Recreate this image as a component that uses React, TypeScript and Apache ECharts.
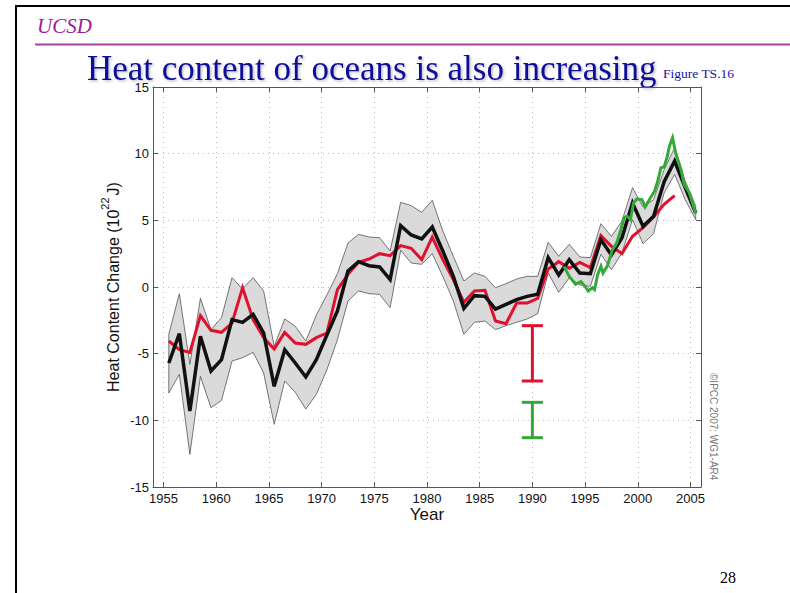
import React, { useEffect, useRef } from "react";
import * as echarts from "echarts";

// ---- data ----
const years = [
  1955.5, 1956.5, 1957.5, 1958.5, 1959.5, 1960.5, 1961.5, 1962.5, 1963.5, 1964.5,
  1965.5, 1966.5, 1967.5, 1968.5, 1969.5, 1970.5, 1971.5, 1972.5, 1973.5, 1974.5,
  1975.5, 1976.5, 1977.5, 1978.5, 1979.5, 1980.5, 1981.5, 1982.5, 1983.5, 1984.5,
  1985.5, 1986.5, 1987.5, 1988.5, 1989.5, 1990.5, 1991.5, 1992.5, 1993.5, 1994.5,
  1995.5, 1996.5, 1997.5, 1998.5, 1999.5, 2000.5, 2001.5, 2002.5, 2003.5, 2004.5,
  2005.5,
];
const blackVals = [
  -5.7, -3.5, -9.3, -3.7, -6.3, -5.45, -2.45, -2.65, -2.05, -3.45,
  -7.45, -4.7, -5.7, -6.75, -5.45, -3.6, -1.8, 1.2, 1.9, 1.6,
  1.5, 0.55, 4.6, 3.9, 3.6, 4.5, 2.7, 0.8, -1.6, -0.65,
  -0.7, -1.65, -1.3, -0.95, -0.7, -0.55, 2.2, 0.9, 2.05, 1.05,
  1.0, 3.55, 2.4, 3.7, 6.3, 4.55, 5.3, 7.9, 9.45, 7.45,
  5.55,
];
const upperVals = [
  -3.55, -0.5, -5.8, -0.85, -3.2, -2.3, 0.7, -0.15, 0.7, -0.3,
  -4.45, -2.4, -2.95, -4.05, -2.1, -0.6, 1.0, 3.3, 3.95, 3.75,
  3.7, 2.7, 6.35, 6.1, 5.6, 6.5, 4.2, 2.3, 0.45, 1.05,
  0.8, -0.05, 0.25, 0.6, 0.8, 0.8, 3.35, 2.3, 3.2, 2.25,
  2.2, 4.75, 3.8, 4.95, 7.45, 6.0, 6.55, 8.8, 10.45, 7.95,
  6.1,
];
const lowerVals = [
  -7.95, -6.55, -12.55, -6.7, -9.05, -8.5, -5.55, -5.3, -4.9, -6.45,
  -10.3, -7.05, -7.9, -9.15, -8.05, -6.2, -3.95, -1.05, -0.3, -0.5,
  -0.55, -1.55, 2.75, 1.8, 1.7, 2.5, 0.8, -1.05, -3.55, -2.65,
  -2.55, -3.2, -2.9, -2.65, -2.4, -2.0, 1.05, -0.4, 0.7, 0.15,
  0.05, 2.45, 1.3, 2.55, 5.05, 3.25, 4.0, 7.05, 8.45, 6.55,
  5.05,
];
const redVals = [
  -4.05, -4.7, -4.9, -2.15, -3.25, -3.4, -2.7, -0.05, -2.45, -3.8,
  -4.65, -3.4, -4.2, -4.3, -3.8, -3.45, -0.2, 0.95, 1.85, 2.1,
  2.5, 2.35, 3.1, 2.9, 2.05, 3.75, 2.05, 0.55, -1.15, -0.3,
  -0.25, -2.55, -2.75, -1.2, -1.2, -0.85, 1.35, 1.9, 1.4, 1.85,
  1.45, 3.85, 3.05, 2.5, 3.8, 4.45, 5.25, 6.2, 6.85,
];
const greenYears = [
  1993.0, 1993.5, 1994.1, 1994.6, 1995.0, 1995.3, 1995.7, 1995.9, 1996.2, 1996.5,
  1996.7, 1997.1, 1997.6, 1998.0, 1998.4, 1998.7, 1999.0, 1999.3, 1999.6, 1999.9,
  2000.4, 2000.7, 2001.1, 2001.6, 2001.9, 2002.2, 2002.5, 2002.8, 2003.0, 2003.3,
  2003.6, 2004.1, 2004.4, 2004.9, 2005.5,
];
const greenVals = [
  1.55, 0.8, 0.2, 0.4, 0.05, -0.3, -0.05, -0.2, 0.95, 1.55,
  1.05, 1.55, 2.8, 3.3, 4.3, 5.2, 5.3, 5.05, 6.3, 6.6,
  6.55, 6.0, 6.55, 7.2, 7.95, 8.95, 9.0, 9.8, 10.55, 11.2,
  10.05, 8.8, 7.7, 7.05, 5.5,
];
const errYears = [1990, 1990];
const errTop = [-2.9, -8.65];
const errBottom = [-7.05, -11.3];
const errColors = ["#e0112e", "#35a83a"];
const xTicks = [1955, 1960, 1965, 1970, 1975, 1980, 1985, 1990, 1995, 2000, 2005];

const SANS = '"Liberation Sans", Arial, sans-serif';
const SERIF = '"Liberation Serif", "Times New Roman", serif';

export default function App() {
  const ref = useRef<HTMLDivElement>(null);
  useEffect(() => {
    if (!ref.current) return;
    const chart = echarts.init(ref.current, null, { renderer: "svg" });

    const pts = (xs: number[], ys: number[]) => ys.map((v, i) => [xs[i], v]);

    const axisLineStyle = { color: "#555", width: 1 };
    const xCommon = {
      type: "value",
      min: 1954,
      max: 2006,
      axisLine: { show: true, onZero: false, lineStyle: axisLineStyle },
    };
    const yCommon = {
      type: "value",
      min: -15,
      max: 15,
      interval: 5,
      axisLine: { show: true, onZero: false, lineStyle: axisLineStyle },
    };

    const option: any = {
      animation: false,
      backgroundColor: "#ffffff",
      grid: { left: 153, top: 87, width: 548, height: 400, containLabel: false },
      xAxis: [
        {
          ...xCommon,
          position: "bottom",
          name: "Year",
          nameLocation: "middle",
          nameMoveOverlap: false,
          nameGap: 19,
          nameTextStyle: { fontFamily: SANS, fontSize: 17, lineHeight: 16, color: "#111", verticalAlign: "top" },
          axisTick: { show: true, inside: true, length: 5, customValues: xTicks, lineStyle: { color: "#555" } },
          axisLabel: {
            show: true,
            margin: 5,
            customValues: xTicks,
            formatter: (v: number) => String(Math.round(v)),
            fontFamily: SANS,
            fontSize: 13,
            color: "#111",
          },
          splitLine: { show: true, lineStyle: { type: [1, 4], color: "#bbbbbb", width: 1 } },
        },
        {
          ...xCommon,
          position: "top",
          axisTick: { show: true, inside: true, length: 5, customValues: xTicks, lineStyle: { color: "#555" } },
          axisLabel: { show: false },
          splitLine: { show: false },
        },
      ],
      yAxis: [
        {
          ...yCommon,
          position: "left",
          name: "{a|Heat Content Change (10}{s|22}{a|J)}",
          nameLocation: "middle",
          nameMoveOverlap: false,
          nameRotate: 90,
          nameGap: 32,
          nameTextStyle: {
            rich: {
              a: { fontFamily: SANS, fontSize: 16, color: "#111", verticalAlign: "bottom", lineHeight: 22 },
              s: { fontFamily: SANS, fontSize: 11, color: "#111", verticalAlign: "top", lineHeight: 22, padding: [0, 2, 0, 0] },
            },
          },
          axisTick: { show: true, inside: true, length: 5, lineStyle: { color: "#555" } },
          axisLabel: { show: true, margin: 4, fontFamily: SANS, fontSize: 13, color: "#111" },
          splitLine: { show: true, lineStyle: { type: [1, 4], color: "#bbbbbb", width: 1 } },
        },
        {
          ...yCommon,
          position: "right",
          axisTick: { show: true, inside: true, length: 5, lineStyle: { color: "#555" } },
          axisLabel: { show: false },
          splitLine: { show: false },
        },
      ],
      series: [
        {
          type: "custom",
          name: "band",
          data: [[years[0], upperVals[0]]],
          encode: { x: 0, y: 1 },
          silent: true,
          renderItem: (params: any, api: any) => {
            const up = years.map((x, i) => api.coord([x, upperVals[i]]));
            const lo = years.map((x, i) => api.coord([x, lowerVals[i]])).reverse();
            return {
              type: "polygon",
              shape: { points: up.concat(lo) },
              style: { fill: "#d9dad9", stroke: "#555", lineWidth: 0.8 },
            };
          },
          z: 1,
        },
        {
          type: "line",
          name: "red",
          data: pts(years, redVals),
          symbol: "none",
          lineStyle: { width: 3, color: "#e0112e", join: "miter" },
          z: 3,
        },
        {
          type: "line",
          name: "black",
          data: pts(years, blackVals),
          symbol: "none",
          lineStyle: { width: 3.5, color: "#111111", join: "miter" },
          z: 4,
        },
        {
          type: "line",
          name: "green",
          data: pts(greenYears, greenVals),
          symbol: "none",
          lineStyle: { width: 3, color: "#35a83a", join: "miter" },
          z: 5,
        },
        {
          type: "custom",
          name: "errorbars",
          data: errYears.map((x, i) => [x, errTop[i], errBottom[i], i]),
          encode: { x: 0, y: [1, 2] },
          renderItem: (params: any, api: any) => {
            const x = api.value(0);
            const top = api.coord([x, api.value(1)]);
            const bot = api.coord([x, api.value(2)]);
            const half = api.size([1, 0])[0];
            const color = errColors[api.value(3)];
            const style = { stroke: color, lineWidth: 3, fill: "none" };
            return {
              type: "group",
              children: [
                { type: "line", shape: { x1: top[0], y1: top[1], x2: bot[0], y2: bot[1] }, style },
                { type: "line", shape: { x1: top[0] - half, y1: top[1], x2: top[0] + half, y2: top[1] }, style },
                { type: "line", shape: { x1: bot[0] - half, y1: bot[1], x2: bot[0] + half, y2: bot[1] }, style },
              ],
            };
          },
          z: 6,
        },
      ],
      graphic: [
        { type: "line", shape: { x1: 15, y1: 6, x2: 790, y2: 6 }, style: { stroke: "#000", lineWidth: 2 } },
        { type: "line", shape: { x1: 16, y1: 5, x2: 16, y2: 593 }, style: { stroke: "#000", lineWidth: 2 } },
        {
          type: "text",
          x: 37,
          y: 26,
          style: {
            text: "UCSD",
            fontFamily: SERIF,
            fontStyle: "italic",
            fontSize: 21,
            fill: "#a0199b",
            verticalAlign: "middle",
            align: "left",
          },
        },
        { type: "line", shape: { x1: 35, y1: 44.5, x2: 790, y2: 44.5 }, style: { stroke: "#a3439f", lineWidth: 2 } },
        {
          type: "text",
          x: 87,
          y: 68,
          style: {
            text: "Heat content of oceans is also increasing",
            fontFamily: SERIF,
            fontSize: 35,
            lineHeight: 22,
            fill: "#0d0d99",
            verticalAlign: "middle",
            align: "left",
            textShadowColor: "rgba(0,0,40,0.25)",
            textShadowBlur: 2,
            textShadowOffsetX: 1.5,
            textShadowOffsetY: 1.5,
          },
        },
        {
          type: "text",
          x: 663,
          y: 73.5,
          style: {
            text: "Figure TS.16",
            fontFamily: SERIF,
            fontSize: 13.5,
            fill: "#1515a0",
            verticalAlign: "middle",
            align: "left",
          },
        },
        {
          type: "text",
          x: 713,
          y: 373,
          rotation: -Math.PI / 2,
          style: {
            text: "©IPCC 2007: WG1-AR4",
            fontFamily: SANS,
            fontSize: 10,
            fill: "#777",
            verticalAlign: "middle",
            align: "left",
          },
        },
        {
          type: "text",
          x: 728,
          y: 577,
          style: {
            text: "28",
            fontFamily: SERIF,
            fontSize: 16,
            fill: "#000",
            verticalAlign: "middle",
            align: "center",
          },
        },
      ],
    };
    chart.setOption(option);
    return () => chart.dispose();
  }, []);

  return (
    <div
      ref={ref}
      style={{ position: "fixed", left: 0, top: 0, width: 790, height: 593, background: "#fff" }}
    />
  );
}
